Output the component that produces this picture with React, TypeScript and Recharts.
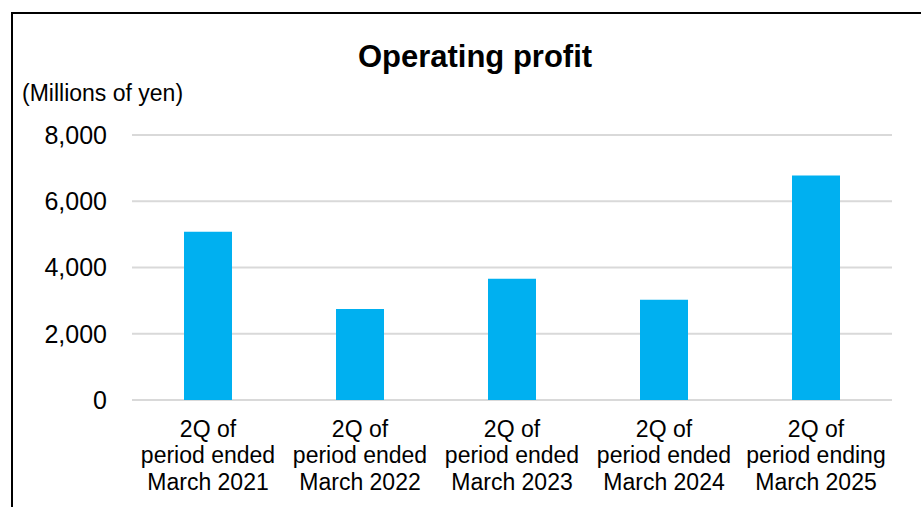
import { Bar, BarChart, CartesianGrid, XAxis, YAxis } from "recharts";

const periods = [
  "2Q of\nperiod ended\nMarch 2021",
  "2Q of\nperiod ended\nMarch 2022",
  "2Q of\nperiod ended\nMarch 2023",
  "2Q of\nperiod ended\nMarch 2024",
  "2Q of\nperiod ending\nMarch 2025",
];
const operatingProfit = [5080, 2750, 3660, 3030, 6775];
const yTicks = [0, 2000, 4000, 6000, 8000];

const data = periods.map((period, i) => ({ period, profit: operatingProfit[i] }));

const FONT = "'Liberation Sans', Arial, sans-serif";

function PeriodTick({ x, y, payload }: any) {
  const lines = String(payload.value).split("\n");
  return (
    <text x={x} y={y} textAnchor="middle" fontSize={23} fill="#000" fontFamily={FONT}>
      {lines.map((line, i) => (
        <tspan key={i} x={x} y={y + 36.5 + i * 26.7}>
          {line}
        </tspan>
      ))}
    </text>
  );
}

export default function App() {
  return (
    <div
      style={{
        position: "absolute",
        left: 0,
        top: 0,
        width: 921,
        height: 507,
        overflow: "hidden",
        background: "#fff",
        fontFamily: FONT,
      }}
    >
      <div
        style={{
          position: "absolute",
          left: 11,
          top: 12,
          width: 960,
          height: 560,
          borderTop: "2px solid #000",
          borderLeft: "2px solid #000",
        }}
      />
      <div
        style={{
          position: "absolute",
          left: 275,
          top: 40.5,
          width: 400,
          textAlign: "center",
          fontSize: 31,
          lineHeight: 1,
          fontWeight: "bold",
          color: "#000",
        }}
      >
        Operating profit
      </div>
      <div
        style={{
          position: "absolute",
          left: 22,
          top: 82,
          fontSize: 23,
          lineHeight: 1,
          color: "#000",
          whiteSpace: "nowrap",
        }}
      >
        (Millions of yen)
      </div>
      <div style={{ position: "absolute", left: 0, top: 0 }}>
        <BarChart width={921} height={507} data={data} margin={{ top: 135, right: 29, left: 0, bottom: 0 }}>
          <CartesianGrid vertical={false} stroke="#d9d9d9" strokeWidth={2} />
          <XAxis
            dataKey="period"
            axisLine={false}
            tickLine={false}
            tickSize={0}
            tickMargin={0}
            height={107}
            interval={0}
            tick={<PeriodTick />}
          />
          <YAxis
            domain={[0, 8000]}
            ticks={yTicks}
            width={132}
            axisLine={false}
            tickLine={false}
            tickSize={0}
            tickMargin={25}
            tick={{ fontSize: 25, fill: "#000", fontFamily: FONT }}
            tickFormatter={(v) => Number(v).toLocaleString("en-US")}
          />
          <Bar dataKey="profit" fill="#00B0F0" barSize={48} isAnimationActive={false} />
        </BarChart>
      </div>
    </div>
  );
}
